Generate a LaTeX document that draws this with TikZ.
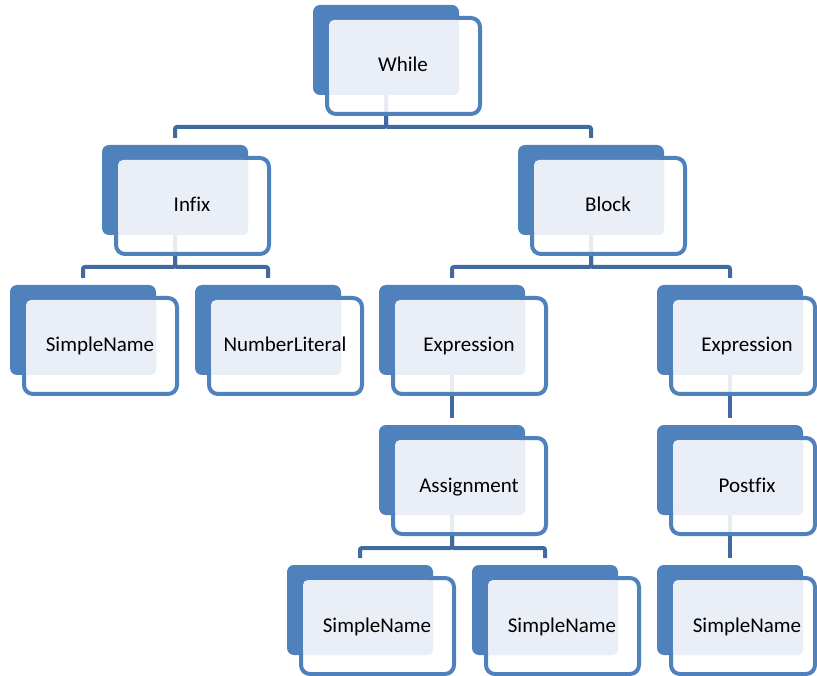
\documentclass[tikz,border=0pt]{standalone}
\usepackage{fontspec}
\setmainfont{Carlito}[Ligatures=NoCommon]
\usetikzlibrary{positioning}
\definecolor{saBlue}{RGB}{79,129,189}
\definecolor{saLine}{RGB}{64,106,160}
\definecolor{saLight}{RGB}{234,239,247}
\pgfdeclarelayer{bg}
\pgfsetlayers{bg,main}
\tikzset{
  backbox/.style={fill=saBlue, draw=none, rounded corners=7pt, inner sep=0pt, outer sep=0pt,
    minimum width=146pt, minimum height=90pt},
  frontbox/.style={fill=white, fill opacity=0.88, draw=saBlue, draw opacity=1, line width=4pt,
    rounded corners=9pt, inner sep=0pt, outer sep=0pt, minimum height=96pt},
  lightbox/.style={fill=saLight, rounded corners=5pt},
  label/.style={font=\fontsize{21}{25}\selectfont, text=black, inner sep=0pt, anchor=base},
  conn/.style={draw=saLine, line width=4pt, rounded corners=2pt}
}
% #1 name, #2 back left x, #3 back top y, #4 text, #5 front width
\newcommand{\sabox}[5]{%
  \node[backbox] (#1-back) at ({#2+73},{#3+45}) {};
  \node[frontbox, minimum width=#5pt] (#1-frame) at ({#2+14+#5/2},{#3+61}) {};
  \fill[lightbox] ({#2+16},{#3+15}) rectangle ({#2+146},{#3+90});
  \node[label] (#1) at ({#2+90},{#3+67}) {#4};
}
\begin{document}
\begin{tikzpicture}[x=1pt,y=-1pt]
\useasboundingbox (0,0) rectangle (817,676);
\sabox{while}{313}{5}{While}{153}
\sabox{infix}{102}{145}{Infix}{153}
\sabox{block}{518}{145}{Block}{153}
\sabox{sn1}{10}{285}{SimpleName}{153}
\sabox{numlit}{195}{285}{NumberLiteral}{153}
\sabox{expr1}{379}{285}{Expression}{153}
\sabox{expr2}{657}{285}{Expression}{144}
\sabox{assign}{379}{425}{Assignment}{153}
\sabox{postfix}{657}{425}{Postfix}{144}
\sabox{sn2}{287}{565}{SimpleName}{153}
\sabox{sn3}{472}{565}{SimpleName}{153}
\sabox{sn4}{657}{565}{SimpleName}{144}
\coordinate (busA) at (0,127);
\coordinate (busB) at (0,267);
\coordinate (busC) at (0,548);
\begin{pgfonlayer}{bg}
\draw[conn] (while-back.south) -- (while-back.south |- busA) -| ([yshift=7pt]infix-back.north);
\draw[conn] (while-back.south) -- (while-back.south |- busA) -| ([yshift=7pt]block-back.north);
\draw[conn] (infix-back.south) -- (infix-back.south |- busB) -| ([yshift=7pt]sn1-back.north);
\draw[conn] (infix-back.south) -- (infix-back.south |- busB) -| ([yshift=7pt]numlit-back.north);
\draw[conn] (block-back.south) -- (block-back.south |- busB) -| ([yshift=7pt]expr1-back.north);
\draw[conn] (block-back.south) -- (block-back.south |- busB) -| ([yshift=7pt]expr2-back.north);
\draw[conn] (expr1-back.south) -- ([yshift=7pt]assign-back.north);
\draw[conn] (expr2-back.south) -- ([yshift=7pt]postfix-back.north);
\draw[conn] (assign-back.south) -- (assign-back.south |- busC) -| ([yshift=7pt]sn2-back.north);
\draw[conn] (assign-back.south) -- (assign-back.south |- busC) -| ([yshift=7pt]sn3-back.north);
\draw[conn] (postfix-back.south) -- ([yshift=7pt]sn4-back.north);
\end{pgfonlayer}
\end{tikzpicture}
\end{document}
